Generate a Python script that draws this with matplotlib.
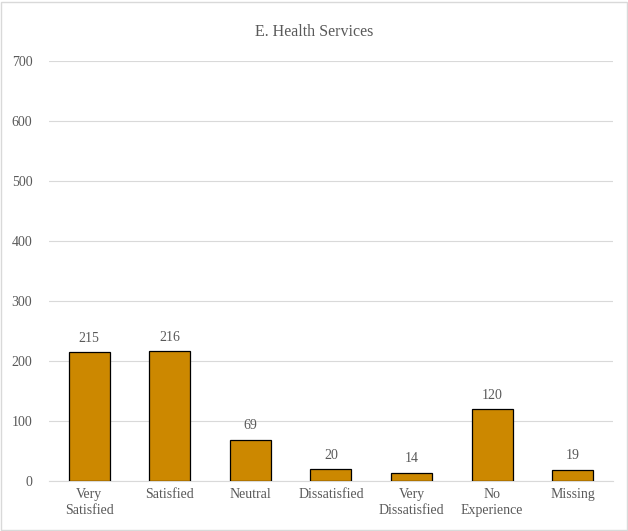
import matplotlib
matplotlib.use("Agg")
import matplotlib.pyplot as plt
from matplotlib.patches import Rectangle

categories = ["Very\nSatisfied", "Satisfied", "Neutral", "Dissatisfied",
              "Very\nDissatisfied", "No\nExperience", "Missing"]
values = [215, 216, 69, 20, 14, 120, 19]
yticks = [0, 100, 200, 300, 400, 500, 600, 700]

plt.rcParams['font.family'] = ['Liberation Serif', 'DejaVu Serif']
text_col = '#595959'

fig = plt.figure(figsize=(6.28, 5.31), dpi=100)
ax = fig.add_axes([0.078, 0.094, 0.898, 0.791])

x = range(len(categories))
ax.bar(x, values, width=0.51, color='#CC8800', edgecolor='black', linewidth=0.9, zorder=3)
for xi, v in zip(x, values):
    ax.text(xi, v + 12, str(v), ha='center', va='bottom', fontsize=10, color=text_col)

ax.set_xlim(-0.5, len(categories) - 0.5)
ax.set_ylim(0, 700)
ax.set_yticks(yticks)
ax.set_xticks(list(x))
ax.set_xticklabels(categories, fontsize=10, color=text_col, linespacing=1.3)
ax.tick_params(axis='y', labelsize=10, labelcolor=text_col, length=0, pad=12)
ax.tick_params(axis='x', length=0, pad=5)
ax.grid(axis='y', color='#D9D9D9', linewidth=0.8, zorder=0)
for s in ['top', 'right', 'left']:
    ax.spines[s].set_visible(False)
ax.spines['bottom'].set_color('#D9D9D9')

fig.text(0.5, 0.94, "E. Health Services", ha='center', va='center', fontsize=11.5, color=text_col)
fig.add_artist(Rectangle((0.002, 0.002), 0.996, 0.994, transform=fig.transFigure,
                         fill=False, edgecolor='#D9D9D9', linewidth=1))

fig.savefig("out.png", dpi=100)
